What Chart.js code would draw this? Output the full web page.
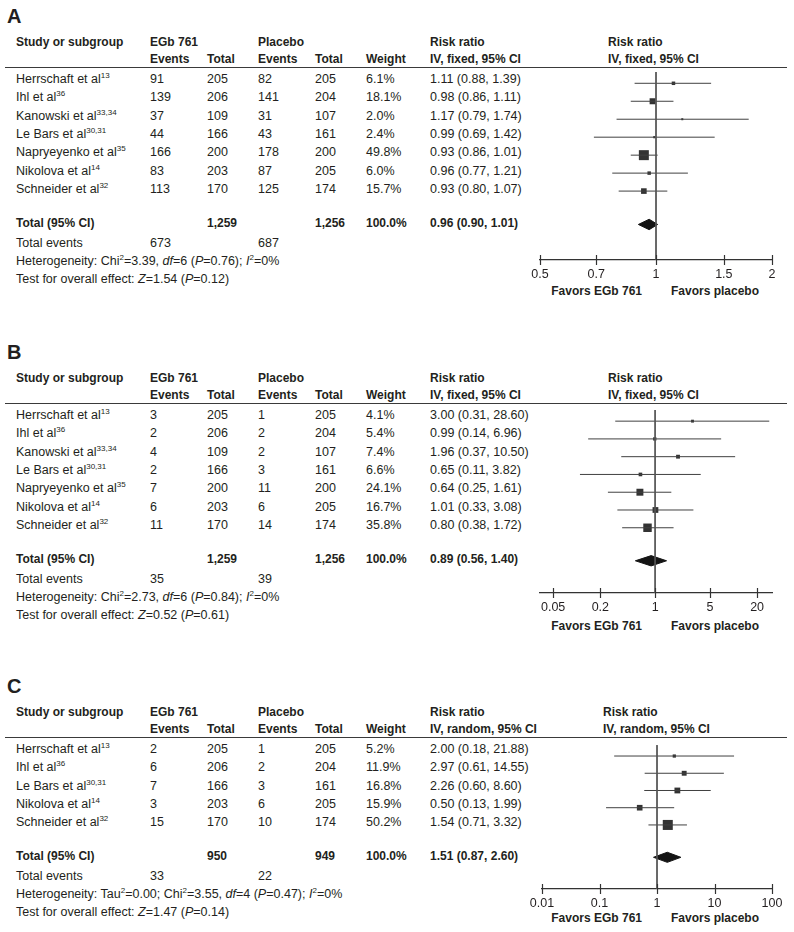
<!DOCTYPE html>
<html>
<head>
<meta charset="utf-8">
<script src="https://cdn.jsdelivr.net/npm/chart.js@4.4.1/dist/chart.umd.min.js"></script>
<style>
  body { margin: 0; background: #fff; }
  #page { position: relative; width: 794px; height: 932px; overflow: hidden;
          font-family: "Liberation Sans", Arial, sans-serif; color: #231f20; }
  .t { position: absolute; white-space: nowrap; font-size: 12.5px; line-height: 14px; transform: translateY(-50%); }
  .b { font-weight: bold; font-size: 12px; }
  .r { transform: translate(-100%, -50%); }
  .lbl { font-weight: bold; font-size: 20px; line-height: 22px; }
  sup { font-size: 8px; vertical-align: 5px; line-height: 0; }
  .rule { position: absolute; left: 5px; width: 782px; height: 0; border-top: 1.5px solid #3a3a3a; }
  canvas { position: absolute; }
</style>
</head>
<body>
<div id="page"></div>
<script>
// ---- panel A: all-cause dropouts ----
const studiesA = ["Herrschaft et al", "Ihl et al", "Kanowski et al", "Le Bars et al", "Napryeyenko et al", "Nikolova et al", "Schneider et al"];
const refsA = ["13", "36", "33,34", "30,31", "35", "14", "32"];
const egbEventsA = [91, 139, 37, 44, 166, 83, 113];
const egbTotalA = [205, 206, 109, 166, 200, 203, 170];
const plaEventsA = [82, 141, 31, 43, 178, 87, 125];
const plaTotalA = [205, 204, 107, 161, 200, 205, 174];
const weightA = [6.1, 18.1, 2.0, 2.4, 49.8, 6.0, 15.7];
const rrA = [1.11, 0.98, 1.17, 0.99, 0.93, 0.96, 0.93];
const loA = [0.88, 0.86, 0.79, 0.69, 0.86, 0.77, 0.80];
const hiA = [1.39, 1.11, 1.74, 1.42, 1.01, 1.21, 1.07];
const pooledA = [0.96, 0.90, 1.01];          // estimate, lower, upper
const sumTotalsA = [1259, 1256];
const sumEventsA = [673, 687];
const ticksA = [0.5, 0.7, 1, 1.5, 2];

// ---- panel B ----
const studiesB = studiesA;
const refsB = refsA;
const egbEventsB = [3, 2, 4, 2, 7, 6, 11];
const egbTotalB = [205, 206, 109, 166, 200, 203, 170];
const plaEventsB = [1, 2, 2, 3, 11, 6, 14];
const plaTotalB = [205, 204, 107, 161, 200, 205, 174];
const weightB = [4.1, 5.4, 7.4, 6.6, 24.1, 16.7, 35.8];
const rrB = [3.00, 0.99, 1.96, 0.65, 0.64, 1.01, 0.80];
const loB = [0.31, 0.14, 0.37, 0.11, 0.25, 0.33, 0.38];
const hiB = [28.60, 6.96, 10.50, 3.82, 1.61, 3.08, 1.72];
const pooledB = [0.89, 0.56, 1.40];
const sumTotalsB = [1259, 1256];
const sumEventsB = [35, 39];
const ticksB = [0.05, 0.2, 1, 5, 20];

// ---- panel C ----
const studiesC = ["Herrschaft et al", "Ihl et al", "Le Bars et al", "Nikolova et al", "Schneider et al"];
const refsC = ["13", "36", "30,31", "14", "32"];
const egbEventsC = [2, 6, 7, 3, 15];
const egbTotalC = [205, 206, 166, 203, 170];
const plaEventsC = [1, 2, 3, 6, 10];
const plaTotalC = [205, 204, 161, 205, 174];
const weightC = [5.2, 11.9, 16.8, 15.9, 50.2];
const rrC = [2.00, 2.97, 2.26, 0.50, 1.54];
const loC = [0.18, 0.61, 0.60, 0.13, 0.71];
const hiC = [21.88, 14.55, 8.60, 1.99, 3.32];
const pooledC = [1.51, 0.87, 2.60];
const sumTotalsC = [950, 949];
const sumEventsC = [33, 22];
const ticksC = [0.01, 0.1, 1, 10, 100];

const panels = [
  { letter: "A", method: "fixed", studies: studiesA, refs: refsA, ev1: egbEventsA, n1: egbTotalA, ev2: plaEventsA, n2: plaTotalA,
    w: weightA, rr: rrA, lo: loA, hi: hiA, pooled: pooledA, sums: sumTotalsA, events: sumEventsA, ticks: ticksA,
    het: "Heterogeneity: Chi<sup>2</sup>=3.39, <i>df</i>=6 (<i>P</i>=0.76); <i>I</i><sup>2</sup>=0%",
    test: "Test for overall effect: <i>Z</i>=1.54 (<i>P</i>=0.12)",
    xMin: 0.5, xMax: 2, padL: 20, padR: 22, row0: 79, step: 18.3, axisY: 259, favorsY: 291, plotHeadX: 608 },
  { letter: "B", method: "fixed", studies: studiesB, refs: refsB, ev1: egbEventsB, n1: egbTotalB, ev2: plaEventsB, n2: plaTotalB,
    w: weightB, rr: rrB, lo: loB, hi: hiB, pooled: pooledB, sums: sumTotalsB, events: sumEventsB, ticks: ticksB,
    het: "Heterogeneity: Chi<sup>2</sup>=2.73, <i>df</i>=6 (<i>P</i>=0.84); <i>I</i><sup>2</sup>=0%",
    test: "Test for overall effect: <i>Z</i>=0.52 (<i>P</i>=0.61)",
    xMin: 0.034, xMax: 31, padL: 20, padR: 22, row0: 415, step: 18.3, axisY: 592, favorsY: 626, plotHeadX: 608 },
  { letter: "C", method: "random", studies: studiesC, refs: refsC, ev1: egbEventsC, n1: egbTotalC, ev2: plaEventsC, n2: plaTotalC,
    w: weightC, rr: rrC, lo: loC, hi: hiC, pooled: pooledC, sums: sumTotalsC, events: sumEventsC, ticks: ticksC,
    het: "Heterogeneity: Tau<sup>2</sup>=0.00; Chi<sup>2</sup>=3.55, <i>df</i>=4 (<i>P</i>=0.47); <i>I</i><sup>2</sup>=0%",
    test: "Test for overall effect: <i>Z</i>=1.47 (<i>P</i>=0.14)",
    xMin: 0.01, xMax: 100, padL: 22, padR: 22, row0: 749.3, step: 18.1, axisY: 889, favorsY: 918, plotHeadX: 603 }
];

const col = { study: 16, ev1: 150, n1: 207, ev2: 258, n2: 315, w: 366, rr: 430 };
const FONT = '"Liberation Sans", Arial, sans-serif';
const page = document.getElementById("page");

function text(x, y, html, cls) {
  const d = document.createElement("div");
  d.className = "t " + (cls || "");
  d.style.left = x + "px";
  d.style.top = y + "px";
  d.innerHTML = html;
  page.appendChild(d);
}
const fmt = v => v.toLocaleString("en-US");
const ci = (a, b, c) => a.toFixed(2) + " (" + b.toFixed(2) + ", " + c.toFixed(2) + ")";

// tick marks that cross the axis line
const crossTicks = {
  id: "crossTicks",
  afterDraw(chart) {
    const s = chart.scales.x, y = chart.chartArea.bottom, c = chart.ctx;
    c.save();
    c.strokeStyle = "#333";
    c.lineWidth = 1.2;
    s.ticks.forEach(t => {
      const x = Math.round(s.getPixelForValue(t.value)) + 0.5;
      c.beginPath(); c.moveTo(x, y - 5); c.lineTo(x, y + 5); c.stroke();
    });
    c.restore();
  }
};

panels.forEach(p => {
  const n = p.studies.length;
  const head1 = p.row0 - 37.5, head2 = p.row0 - 20, rule = p.row0 - 11.5;
  const totalY = p.row0 + (n - 1) * p.step + 34;

  text(7, head1 - 26, p.letter, "lbl");
  text(col.study, head1, "Study or subgroup", "b");
  text(col.ev1, head1, "EGb 761", "b");
  text(col.ev2, head1, "Placebo", "b");
  text(col.rr, head1, "Risk ratio", "b");
  text(p.plotHeadX, head1, "Risk ratio", "b");
  text(col.ev1, head2, "Events", "b");
  text(col.n1, head2, "Total", "b");
  text(col.ev2, head2, "Events", "b");
  text(col.n2, head2, "Total", "b");
  text(col.w, head2, "Weight", "b");
  text(col.rr, head2, "IV, " + p.method + ", 95% CI", "b");
  text(p.plotHeadX, head2, "IV, " + p.method + ", 95% CI", "b");
  const r = document.createElement("div");
  r.className = "rule";
  r.style.top = (rule - 0.75) + "px";
  page.appendChild(r);

  for (let i = 0; i < n; i++) {
    const y = p.row0 + i * p.step;
    text(col.study, y, p.studies[i] + "<sup>" + p.refs[i] + "</sup>");
    text(col.ev1, y, p.ev1[i]);
    text(col.n1, y, p.n1[i]);
    text(col.ev2, y, p.ev2[i]);
    text(col.n2, y, p.n2[i]);
    text(col.w, y, p.w[i].toFixed(1) + "%");
    text(col.rr, y, ci(p.rr[i], p.lo[i], p.hi[i]));
  }
  text(col.study, totalY, "Total (95% CI)", "b");
  text(col.n1, totalY, fmt(p.sums[0]), "b");
  text(col.n2, totalY, fmt(p.sums[1]), "b");
  text(col.w, totalY, "100.0%", "b");
  text(col.rr, totalY, ci(p.pooled[0], p.pooled[1], p.pooled[2]), "b");
  text(col.study, totalY + 20, "Total events");
  text(col.ev1, totalY + 20, p.events[0]);
  text(col.ev2, totalY + 20, p.events[1]);
  text(col.study, totalY + 38.3, p.het);
  text(col.study, totalY + 56.6, p.test);
  text(642, p.favorsY, "Favors EGb 761", "b r");
  text(671, p.favorsY, "Favors placebo", "b");

  // forest plot
  const yMin = -(p.row0 - rule) / p.step;
  const yMax = (p.axisY - p.row0) / p.step;
  const tRow = (totalY - p.row0) / p.step;
  const dh = 5.3 / p.step;
  const cv = document.createElement("canvas");
  const W = 274, H = Math.round(p.axisY - rule) + 26;
  cv.width = W; cv.height = H;
  cv.style.left = "520px";
  cv.style.top = rule + "px";
  page.appendChild(cv);

  const datasets = [];
  datasets.push({ data: [{ x: 1, y: yMin }, { x: 1, y: yMax }], borderColor: "#555", borderWidth: 1, pointRadius: 0 });
  for (let i = 0; i < n; i++) {
    datasets.push({ data: [{ x: p.lo[i], y: i }, { x: p.hi[i], y: i }], borderColor: "#404040", borderWidth: 1, pointRadius: 0 });
  }
  datasets.push({
    data: p.rr.map((v, i) => ({ x: v, y: i })),
    showLine: false, pointStyle: "rect", borderWidth: 0,
    backgroundColor: "#333", pointBackgroundColor: "#333",
    pointRadius: ctx => Math.sqrt(p.w[ctx.dataIndex])
  });
  const [est, lo, hi] = p.pooled;
  datasets.push({
    data: [{ x: lo, y: tRow }, { x: est, y: tRow - dh }, { x: hi, y: tRow }, { x: est, y: tRow + dh }, { x: lo, y: tRow }],
    fill: "shape", backgroundColor: "#141414", borderColor: "#141414", borderWidth: 1, pointRadius: 0
  });

  new Chart(cv.getContext("2d"), {
    type: "line",
    data: { datasets },
    options: {
      responsive: false,
      animation: false,
      layout: { padding: { left: p.padL, right: p.padR, top: 0, bottom: 0 } },
      plugins: { legend: { display: false }, tooltip: { enabled: false } },
      elements: { line: { tension: 0 } },
      scales: {
        x: {
          type: "logarithmic", min: p.xMin, max: p.xMax, bounds: "data",
          afterBuildTicks: s => { s.ticks = p.ticks.map(v => ({ value: v })); },
          afterFit: s => { s.height = 26; },
          grid: { display: false, drawTicks: true, tickLength: 5 },
          border: { display: true, color: "#333", width: 1.2 },
          ticks: { autoSkip: false, maxRotation: 0, padding: 2, color: "#231f20",
                   font: { family: FONT, size: 12.5 }, callback: v => String(v) }
        },
        y: { type: "linear", display: false, reverse: true, min: yMin, max: yMax }
      }
    },
    plugins: [crossTicks]
  });
});
</script>
</body>
</html>
